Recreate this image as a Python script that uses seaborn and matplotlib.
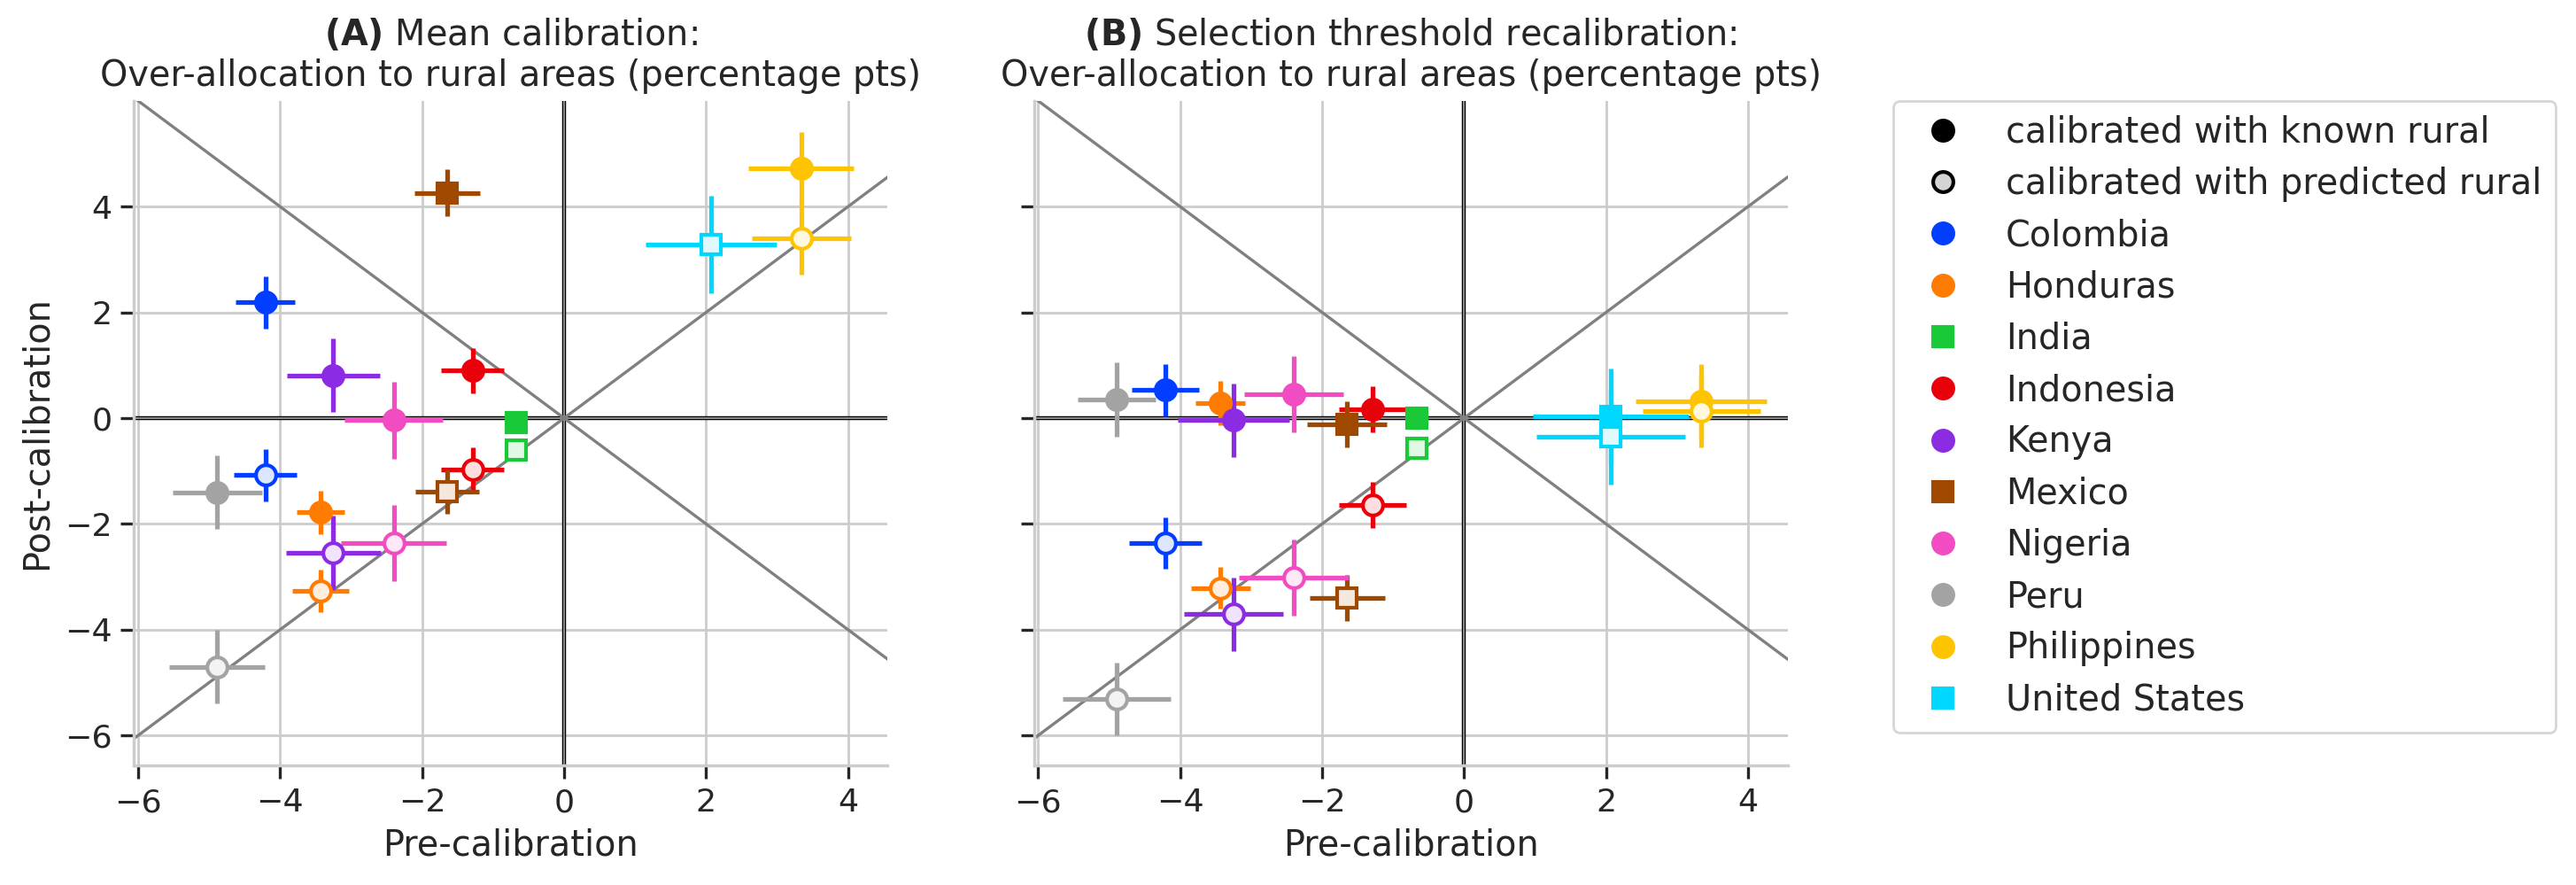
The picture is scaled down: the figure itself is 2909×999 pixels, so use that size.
import numpy as np
import matplotlib
matplotlib.use("Agg")
import matplotlib.pyplot as plt
from matplotlib.lines import Line2D
import seaborn as sns

# ---------------- data ----------------
countries = ["Colombia", "Honduras", "India", "Indonesia", "Kenya",
             "Mexico", "Nigeria", "Peru", "Philippines", "United States"]
square_countries = ["India", "Mexico", "United States"]

# pre-calibration (x) values
pre_x = [-4.21, -3.43, -0.67, -1.29, -3.25, -1.65, -2.40, -4.89, 3.34, 2.07]

# Panel A: mean calibration
a_known_y = [2.19, -1.78, -0.08, 0.90, 0.81, 4.26, -0.04, -1.40, 4.73, np.nan]
a_known_yerr = [0.49, 0.41, 0.04, 0.43, 0.70, 0.44, 0.73, 0.69, 0.68, np.nan]
a_known_xerr = [0.42, 0.34, 0.03, 0.44, 0.66, 0.46, 0.69, 0.63, 0.74, np.nan]
a_pred_y = [-1.08, -3.27, -0.60, -0.98, -2.55, -1.39, -2.37, -4.70, 3.40, 3.29]
a_pred_yerr = [0.49, 0.40, 0.04, 0.42, 0.70, 0.42, 0.72, 0.69, 0.68, 0.92]
a_pred_xerr = [0.44, 0.40, 0.03, 0.44, 0.67, 0.45, 0.74, 0.67, 0.70, 0.92]

# Panel B: selection threshold recalibration
b_known_y = [0.53, 0.28, 0.00, 0.17, -0.04, -0.12, 0.46, 0.35, 0.32, 0.03]
b_known_yerr = [0.49, 0.42, 0.04, 0.43, 0.70, 0.44, 0.72, 0.70, 0.70, 0.90]
b_known_xerr = [0.47, 0.35, 0.03, 0.47, 0.79, 0.56, 0.70, 0.55, 0.92, 1.10]
b_pred_y = [-2.36, -3.21, -0.57, -1.64, -3.71, -3.40, -3.02, -5.31, 0.14, -0.35]
b_pred_yerr = [0.49, 0.40, 0.04, 0.43, 0.70, 0.44, 0.72, 0.69, 0.69, 0.90]
b_pred_xerr = [0.51, 0.42, 0.03, 0.47, 0.70, 0.53, 0.77, 0.76, 0.83, 1.05]

titles = [r"$\bf{(A)}$ Mean calibration:" + "\nOver-allocation to rural areas (percentage pts)",
          r"$\bf{(B)}$ Selection threshold recalibration:" + "\nOver-allocation to rural areas (percentage pts)"]
xlabel = "Pre-calibration"
ylabel = "Post-calibration"
legend_known = "calibrated with known rural"
legend_pred = "calibrated with predicted rural"

# ---------------- style ----------------
sns.set_theme(style="whitegrid", rc={
    "xtick.bottom": True, "ytick.left": True,
    "xtick.major.size": 5.5, "ytick.major.size": 5.5,
    "xtick.major.width": 1.2, "ytick.major.width": 1.2,
    "font.size": 14.3, "axes.titlesize": 14.3, "axes.labelsize": 14.3,
    "xtick.labelsize": 13.1, "ytick.labelsize": 13.1, "legend.fontsize": 14.3,
    "grid.linewidth": 1.0, "axes.linewidth": 1.25,
})
plt.rcParams["font.family"] = ["DejaVu Sans"]

palette = sns.color_palette("bright", len(countries))
colors = dict(zip(countries, palette))

def light(c, a=0.13):
    return tuple(1 - a * (1 - v) for v in c)

MS = 8.2
MEW = 1.5
ELW = 1.9

fig, axes = plt.subplots(1, 2, figsize=(2909 / 200, 999 / 200), dpi=200, sharey=True)
fig.subplots_adjust(left=0.052, right=0.694, bottom=0.135, top=0.886, wspace=0.194)

panels = [
    (a_known_y, a_known_xerr, a_known_yerr, a_pred_y, a_pred_xerr, a_pred_yerr),
    (b_known_y, b_known_xerr, b_known_yerr, b_pred_y, b_pred_xerr, b_pred_yerr),
]

for ax, title, (ky, kxe, kye, py, pxe, pye) in zip(axes, titles, panels):
    ax.plot([-8, 8], [-8, 8], color="gray", lw=1.2, zorder=2)
    ax.plot([-8, 8], [8, -8], color="gray", lw=1.2, zorder=2)
    for f in (ax.axhline, ax.axvline):
        f(0, color="black", lw=1.6, zorder=1.5)
        f(0, color="0.65", lw=0.6, zorder=1.6)
    for i, c in enumerate(countries):
        col = colors[c]
        mk = "s" if c in square_countries else "o"
        if not np.isnan(ky[i]):
            ax.errorbar(pre_x[i], ky[i], xerr=kxe[i], yerr=kye[i], fmt=mk,
                        color=col, mfc=col, mec=col, ms=MS, mew=MEW,
                        elinewidth=ELW, capsize=0, zorder=3)
        if not np.isnan(py[i]):
            ax.errorbar(pre_x[i], py[i], xerr=pxe[i], yerr=pye[i], fmt=mk,
                        color=col, mfc=light(col), mec=col, ms=MS, mew=MEW,
                        elinewidth=ELW, capsize=0, zorder=3)
    ax.set_xlim(-6.06, 4.56)
    ax.set_ylim(-6.57, 6.0)
    ax.set_xticks([-6, -4, -2, 0, 2, 4])
    ax.set_yticks([-6, -4, -2, 0, 2, 4])
    ax.set_title(title)
    ax.set_xlabel(xlabel)
sns.despine(fig=fig)
axes[0].set_ylabel(ylabel)

handles = [
    Line2D([], [], ls="none", marker="o", color="black", mfc="black", mec="black", ms=MS, mew=MEW,
           label=legend_known),
    Line2D([], [], ls="none", marker="o", color="black", mfc=light((0, 0, 0), 0.17), mec="black",
           ms=MS, mew=MEW, label=legend_pred),
]
for c in countries:
    mk = "s" if c in square_countries else "o"
    handles.append(Line2D([], [], ls="none", marker=mk, color=colors[c], mfc=colors[c],
                          mec=colors[c], ms=MS, mew=MEW, label=c))
fig.legend(handles=handles, loc="upper left", bbox_to_anchor=(0.735, 0.886),
           bbox_transform=fig.transFigure, borderaxespad=0, frameon=True,
           labelspacing=0.46)

fig.savefig("out.png", dpi=200)
